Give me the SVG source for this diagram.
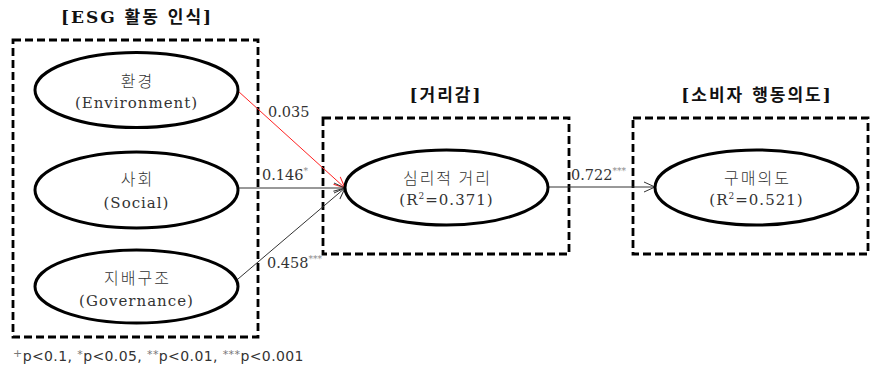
<svg xmlns="http://www.w3.org/2000/svg" width="871" height="369" viewBox="0 0 871 369">
<defs>
<style>
.box{fill:none;stroke:#000;stroke-width:2.8;stroke-dasharray:8,4}
.ell{fill:#fff;stroke:#000;stroke-width:3}
.t{font-family:"DejaVu Serif","Noto Sans CJK KR",serif;font-size:15px;fill:#333;text-anchor:middle;letter-spacing:1px}
.k{font-family:"Noto Sans CJK KR",sans-serif;font-size:16px;font-weight:300;fill:#333;text-anchor:middle;letter-spacing:2px}
.title{font-family:"DejaVu Serif","Noto Sans CJK KR",serif;font-size:17px;font-weight:bold;fill:#111;text-anchor:middle;letter-spacing:2px}
.lab{font-family:"DejaVu Serif","Noto Sans CJK KR",serif;font-size:14.5px;fill:#333}
.sup{font-size:9px;fill:#888}
.con{fill:none;stroke:#333;stroke-width:1}
.red{fill:none;stroke:#f22;stroke-width:1}
.note{font-family:"DejaVu Sans","Noto Sans CJK KR",sans-serif;font-size:14px;fill:#333;letter-spacing:0.4px}
.nsup{font-size:11px;fill:#777}
</style>
<marker id="ah" markerWidth="14" markerHeight="12" refX="12" refY="6" orient="auto" markerUnits="userSpaceOnUse">
<path d="M1,1 L12,6 L1,11" fill="none" stroke="#333" stroke-width="1"/>
</marker>
<marker id="ahr" markerWidth="14" markerHeight="12" refX="12" refY="6" orient="auto" markerUnits="userSpaceOnUse">
<path d="M1,1 L12,6 L1,11" fill="none" stroke="#f22" stroke-width="1"/>
</marker>
</defs>
<rect width="871" height="369" fill="#fff"/>

<g id="group-esg">
<text class="title" x="137" y="23">[ESG 활동 인식]</text>
<rect class="box" x="13" y="40" width="245" height="297"/>
</g>
<g id="group-distance">
<text class="title" x="446" y="101">[거리감]</text>
<rect class="box" x="323" y="118" width="246" height="136"/>
</g>
<g id="group-consumer">
<text class="title" x="757" y="101">[소비자 행동의도]</text>
<rect class="box" x="633" y="118" width="235" height="136"/>
</g>

<g id="connectors">
<line class="red" x1="238" y1="91" x2="345" y2="188" marker-end="url(#ahr)"/>
<line class="con" x1="238" y1="188" x2="345" y2="188" marker-end="url(#ah)"/>
<line class="con" x1="238" y1="279" x2="345" y2="188" marker-end="url(#ah)"/>
<line class="con" x1="548" y1="187" x2="655" y2="187" marker-end="url(#ah)"/>
<text class="lab" x="268" y="117">0.035</text>
<text class="lab" x="262" y="180">0.146<tspan class="sup" dy="-6">*</tspan></text>
<text class="lab" x="267" y="268">0.458<tspan class="sup" dy="-6">***</tspan></text>
<text class="lab" x="571" y="180">0.722<tspan class="sup" dy="-6">***</tspan></text>
</g>

<g id="node-env">
<ellipse class="ell" cx="136.5" cy="90" rx="101.5" ry="37.5"/>
<text class="k" x="137.5" y="87">환경</text>
<text class="t" x="136.5" y="108">(Environment)</text>
</g>
<g id="node-social">
<ellipse class="ell" cx="136.5" cy="190" rx="101.5" ry="38"/>
<text class="k" x="137.5" y="185">사회</text>
<text class="t" x="136.5" y="208">(Social)</text>
</g>
<g id="node-gov">
<ellipse class="ell" cx="136.5" cy="286.5" rx="101.5" ry="36.5"/>
<text class="k" x="137.5" y="284">지배구조</text>
<text class="t" x="136.5" y="306">(Governance)</text>
</g>
<g id="node-psych">
<ellipse class="ell" cx="446.5" cy="187.5" rx="101.5" ry="37.5"/>
<text class="k" x="447.5" y="184">심리적 거리</text>
<text class="t" x="446.5" y="205">(R<tspan font-size="9" dy="-6">2</tspan><tspan dy="6">=0.371)</tspan></text>
</g>
<g id="node-purchase">
<ellipse class="ell" cx="756.5" cy="187.5" rx="101.5" ry="37.5"/>
<text class="k" x="757.5" y="184">구매의도</text>
<text class="t" x="756.5" y="205">(R<tspan font-size="9" dy="-6">2</tspan><tspan dy="6">=0.521)</tspan></text>
</g>

<text class="note" x="13" y="361"><tspan class="nsup" dy="-4">+</tspan><tspan dy="4">p&lt;0.1, </tspan><tspan class="nsup" dy="-3">*</tspan><tspan dy="3">p&lt;0.05, </tspan><tspan class="nsup" dy="-3">**</tspan><tspan dy="3">p&lt;0.01, </tspan><tspan class="nsup" dy="-3">***</tspan><tspan dy="3">p&lt;0.001</tspan></text>
</svg>
